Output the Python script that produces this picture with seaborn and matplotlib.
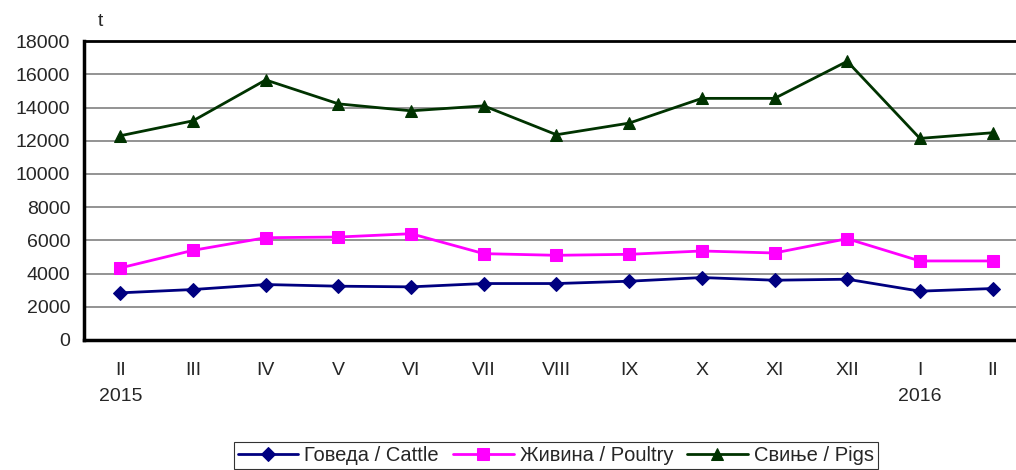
import pandas as pd
import numpy as np
import matplotlib
matplotlib.use('Agg')
import matplotlib.pyplot as plt
import seaborn as sns

# %% Data
months = ['II', 'III', 'IV', 'V', 'VI', 'VII', 'VIII', 'IX', 'X', 'XI', 'XII', 'I', 'II']
cattle = [2840, 3040, 3340, 3240, 3200, 3400, 3400, 3540, 3760, 3600, 3660, 2940, 3100]
poultry = [4340, 5400, 6160, 6200, 6400, 5200, 5100, 5160, 5360, 5240, 6100, 4760, 4760]
pigs = [12300, 13200, 15660, 14220, 13800, 14100, 12360, 13060, 14550, 14550, 16780, 12140, 12480]
series = ['Говеда / Cattle', 'Живина / Poultry', 'Свиње / Pigs']
colors = ['#000080', '#FF00FF', '#003300']
markers = ['D', 's', '^']
sizes = [7, 9, 9]

df = pd.DataFrame({
    'pos': list(range(len(months))) * 3,
    'value': cattle + poultry + pigs,
    'series': [series[0]] * 13 + [series[1]] * 13 + [series[2]] * 13,
})

# %% Plot
sns.set_style('white')
plt.rcParams['font.family'] = ['Liberation Sans', 'DejaVu Sans']
fs = 14

fig = plt.figure(figsize=(10.16, 4.70), dpi=100)
ax = fig.add_axes([0.0827, 0.2766, 0.930, 0.636])

for i, s in enumerate(series):
    sns.lineplot(data=df[df.series == s], x='pos', y='value', ax=ax,
                 color=colors[i], marker=markers[i], markersize=sizes[i],
                 markeredgecolor=colors[i], linewidth=2, label=s)

ax.set_xlim(-0.5, 12.5)
ax.set_ylim(0, 18000)
ax.set_yticks(range(0, 18001, 2000))
ax.set_yticklabels([str(v) for v in range(0, 18001, 2000)], fontsize=fs)
ax.yaxis.grid(True, color='#808080', linewidth=1.2)
ax.set_axisbelow(True)

ax.set_xticks(np.arange(-0.5, 13, 1))
ax.set_xticklabels([])
ax.set_xticks(range(13), minor=True)
ax.set_xticklabels(months, minor=True, fontsize=fs)
ax.tick_params(axis='x', which='major', direction='out', length=7, width=2, color='black')
ax.tick_params(axis='x', which='minor', length=0, pad=16)
ax.tick_params(axis='y', direction='out', length=6, width=1.2, color='black', pad=4)

for sp in ['left', 'bottom']:
    ax.spines[sp].set_linewidth(2.5)
    ax.spines[sp].set_color('black')
ax.spines['top'].set_linewidth(2)
ax.spines['top'].set_color('black')
ax.spines['right'].set_visible(False)

ax.set_xlabel('')
ax.set_ylabel('')

fig.text(0.0985, 0.955, 't', fontsize=fs, ha='center', va='center')
ax.text(0, -0.19, '2015', transform=ax.get_xaxis_transform(), ha='center', va='center', fontsize=fs)
ax.text(11, -0.19, '2016', transform=ax.get_xaxis_transform(), ha='center', va='center', fontsize=fs)

leg = ax.legend(loc='center', bbox_to_anchor=(0.547, 0.031), bbox_transform=fig.transFigure,
                ncol=3, frameon=True, fancybox=False,
                prop={'size': 14.5},
                handlelength=3, columnspacing=0.7, handletextpad=0.3,
                borderpad=0.2, edgecolor='black')
leg.get_frame().set_linewidth(0.8)

fig.savefig('out.png', dpi=100)
